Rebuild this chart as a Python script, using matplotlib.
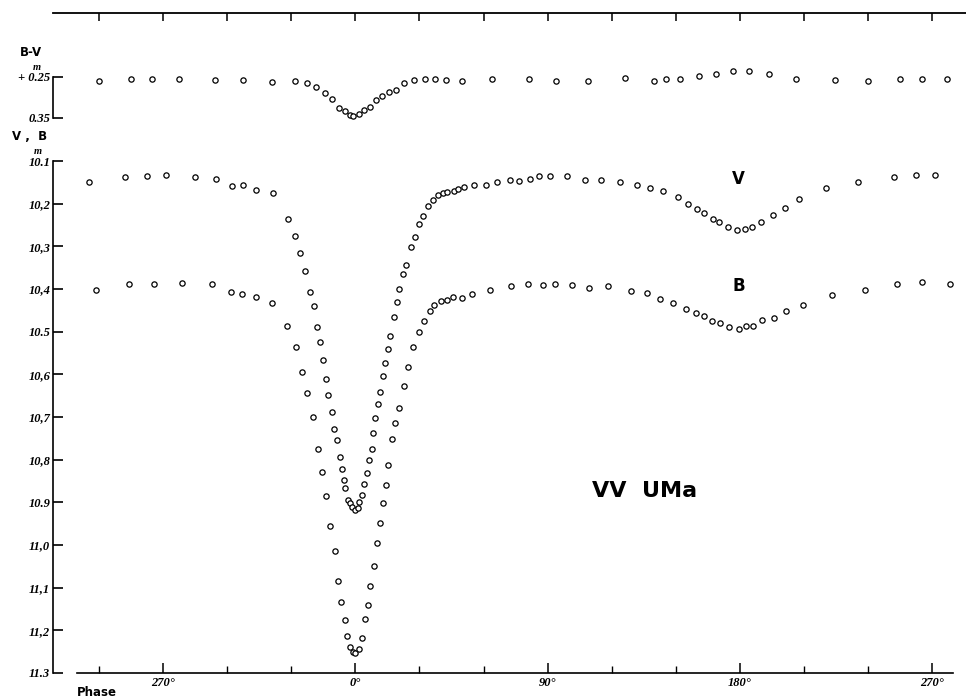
import matplotlib
matplotlib.use("Agg")
import matplotlib.pyplot as plt

# B-V colour curve (phase in degrees, colour index in mag)
bv_phase = [-120.1, -105.1, -95.1, -82.8, -65.6, -52.5, -39.1, -28.5, -22.7, -18.5,
            -14.4, -11.0, -7.6, -4.9, -2.6, -1.0, 1.8, 4.0, 6.9, 9.7,
            12.5, 15.5, 19.0, 22.6, 27.4, 32.4, 37.1, 42.4, 50.0, 64.1,
            81.1, 93.9, 109.0, 126.2, 139.9, 145.4, 152.0, 160.8, 168.7, 176.9,
            184.3, 193.6, 206.1, 224.7, 240.1, 255.0, 265.3, 277.1]
bv_value = [0.260, 0.256, 0.256, 0.256, 0.257, 0.257, 0.261, 0.260, 0.264, 0.275,
            0.288, 0.304, 0.325, 0.332, 0.343, 0.344, 0.340, 0.330, 0.322, 0.307,
            0.297, 0.287, 0.282, 0.265, 0.257, 0.256, 0.256, 0.257, 0.260, 0.256,
            0.255, 0.260, 0.260, 0.252, 0.259, 0.254, 0.255, 0.247, 0.243, 0.236,
            0.235, 0.243, 0.255, 0.258, 0.259, 0.256, 0.256, 0.256]

# V light curve
v_phase = [-124.9, -107.8, -97.6, -88.7, -75.2, -65.3, -57.8, -52.8, -46.4, -38.8,
           -31.7, -28.3, -26.1, -23.5, -21.3, -19.4, -18.2, -16.6, -15.1, -13.7,
           -12.7, -11.1, -9.9, -8.5, -7.4, -6.5, -5.5, -4.8, -3.7, -2.4,
           -1.5, -0.2, 1.0, 1.8, 3.0, 4.0, 5.2, 6.5, 7.6, 8.3,
           9.1, 10.4, 11.5, 12.9, 13.8, 15.2, 16.3, 17.9, 19.3, 20.2,
           22.1, 23.6, 25.8, 27.9, 29.7, 31.7, 34.1, 36.1, 38.5, 40.8,
           42.7, 46.1, 48.1, 50.9, 55.6, 61.2, 66.3, 72.3, 76.7, 81.9,
           86.1, 91.2, 98.9, 107.5, 115.1, 123.9, 131.8, 137.8, 144.1, 151.0,
           155.7, 159.9, 163.3, 167.3, 170.1, 174.4, 178.5, 182.4, 185.8, 189.9,
           195.5, 201.3, 207.5, 220.2, 235.2, 252.2, 262.3, 271.4]
v_mag = [10.150, 10.137, 10.134, 10.132, 10.137, 10.142, 10.159, 10.157, 10.169, 10.176,
         10.236, 10.275, 10.315, 10.357, 10.406, 10.441, 10.490, 10.525, 10.566, 10.612,
         10.649, 10.688, 10.728, 10.755, 10.794, 10.823, 10.848, 10.866, 10.895, 10.902,
         10.911, 10.919, 10.914, 10.900, 10.882, 10.858, 10.831, 10.800, 10.776, 10.738,
         10.703, 10.669, 10.641, 10.603, 10.573, 10.541, 10.509, 10.465, 10.430, 10.401,
         10.365, 10.343, 10.302, 10.279, 10.248, 10.228, 10.205, 10.192, 10.180, 10.175,
         10.172, 10.170, 10.166, 10.162, 10.156, 10.156, 10.149, 10.145, 10.147, 10.142,
         10.134, 10.135, 10.134, 10.145, 10.145, 10.149, 10.157, 10.163, 10.171, 10.185,
         10.200, 10.213, 10.223, 10.237, 10.244, 10.255, 10.262, 10.260, 10.255, 10.243,
         10.226, 10.211, 10.188, 10.163, 10.150, 10.137, 10.133, 10.133]

# B light curve
b_phase = [-121.4, -106.1, -94.5, -81.2, -67.1, -58.4, -53.3, -46.6, -39.0, -31.9,
           -27.7, -25.1, -22.7, -20.0, -17.6, -15.5, -13.7, -12.1, -9.6, -8.2,
           -6.8, -4.8, -3.8, -2.4, -1.2, -0.1, 1.6, 2.9, 4.4, 5.9,
           6.9, 8.5, 10.1, 11.5, 13.0, 14.4, 15.4, 17.2, 18.6, 20.2,
           22.7, 24.7, 27.1, 29.6, 32.1, 34.7, 36.9, 39.9, 42.7, 45.7,
           49.9, 54.4, 63.2, 73.0, 80.9, 87.7, 93.4, 101.4, 109.3, 118.1,
           129.1, 136.4, 142.4, 148.8, 154.9, 159.4, 163.0, 166.8, 170.7, 175.0,
           179.4, 183.0, 186.0, 190.5, 195.8, 201.7, 209.7, 223.3, 238.7, 253.7,
           265.1, 278.5]
b_mag = [10.403, 10.389, 10.389, 10.387, 10.389, 10.407, 10.411, 10.419, 10.433, 10.487,
         10.536, 10.594, 10.643, 10.700, 10.776, 10.828, 10.886, 10.955, 11.014, 11.084,
         11.134, 11.176, 11.213, 11.239, 11.250, 11.252, 11.244, 11.218, 11.173, 11.141,
         11.095, 11.049, 10.995, 10.949, 10.902, 10.859, 10.813, 10.752, 10.713, 10.678,
         10.628, 10.583, 10.535, 10.500, 10.475, 10.451, 10.438, 10.428, 10.426, 10.419,
         10.422, 10.412, 10.402, 10.392, 10.388, 10.390, 10.388, 10.391, 10.398, 10.394,
         10.405, 10.409, 10.423, 10.433, 10.447, 10.457, 10.463, 10.475, 10.480, 10.490,
         10.493, 10.486, 10.487, 10.473, 10.467, 10.451, 10.437, 10.415, 10.403, 10.388,
         10.383, 10.388]

mag_ticks = [10.1, 10.2, 10.3, 10.4, 10.5, 10.6, 10.7, 10.8, 10.9, 11.0, 11.1, 11.2, 11.3]
mag_labels = ["10.1", "10,2", "10,3", "10,4", "10.5", "10,6", "10,7", "10,8", "10.9",
              "11,0", "11,1", "11,2", "11.3"]
bv_ticks = [0.25, 0.35]
bv_labels = ["+ 0.25", "0.35"]
phase_major = [-90, 0, 90, 180, 270]
phase_labels = ["270°", "0°", "90°", "180°", "270°"]
phase_minor = [-120, -60, -30, 30, 60, 120, 150, 210, 240]
top_ticks = list(range(-120, 271, 30))

W, H = 966, 700
XLIM = (-141.6, 285.9)


def box(x0, y0, x1, y1):
    # pixel box, origin top-left -> figure rect
    return [x0 / W, 1 - y1 / H, (x1 - x0) / W, (y1 - y0) / H]


def fpos(x, y):
    return x / W, 1 - y / H


fig = plt.figure(figsize=(W / 100, H / 100), dpi=100)
ax_bv = fig.add_axes(box(53, 13, 966, 130))
ax = fig.add_axes(box(53, 150, 966, 673))

lab_font = dict(family="Liberation Serif", style="italic", weight="bold", size=9)
mk = dict(ls="none", marker="o", ms=3.8, mfc="white", mec="black", mew=0.9, clip_on=False)

# --- B-V panel ---
ax_bv.plot(bv_phase, bv_value, **mk)
ax_bv.set_xlim(*XLIM)
ax_bv.set_ylim(0.3793, 0.0939)
for s in ["right", "bottom"]:
    ax_bv.spines[s].set_visible(False)
ax_bv.spines["left"].set_bounds(0.25, 0.35)
ax_bv.spines["left"].set_linewidth(1.2)
ax_bv.spines["top"].set_linewidth(1.3)
ax_bv.xaxis.tick_top()
ax_bv.set_xticks(top_ticks)
ax_bv.tick_params(axis="x", direction="in", length=6, width=1.1, labeltop=False)
ax_bv.set_yticks(bv_ticks)
ax_bv.set_yticklabels(bv_labels, fontdict=lab_font)
ax_bv.tick_params(axis="y", direction="in", length=7, width=1.2, pad=2)

# --- V, B panel ---
ax.plot(v_phase, v_mag, **mk)
ax.plot(b_phase, b_mag, **mk)
ax.set_xlim(*XLIM)
ax.set_ylim(11.3, 10.0742)
for s in ["right", "top"]:
    ax.spines[s].set_visible(False)
ax.spines["left"].set_bounds(10.1, 11.3)
ax.spines["bottom"].set_bounds(-130.4, 279.8)
ax.spines["left"].set_linewidth(1.2)
ax.spines["bottom"].set_linewidth(1.2)
ax.set_yticks(mag_ticks)
ax.set_yticklabels(mag_labels, fontdict=lab_font)
ax.tick_params(axis="y", direction="in", length=7, width=1.2, pad=2)
ax.set_xticks(phase_major)
ax.set_xticklabels(phase_labels, fontdict=lab_font)
ax.set_xticks(phase_minor, minor=True)
ax.tick_params(axis="x", which="major", direction="in", length=7, width=1.1, pad=3)
ax.tick_params(axis="x", which="minor", direction="in", length=5, width=1.0)

ax.text(179.2, 10.143, "V", ha="center", va="center", fontsize=12, fontweight="bold")
ax.text(179.7, 10.393, "B", ha="center", va="center", fontsize=12, fontweight="bold")
ax.text(135.6, 10.873, "VV  UMa", ha="center", va="center", fontsize=16, fontweight="bold")

# axis captions
sup = dict(family="Liberation Serif", style="italic", weight="bold", size=7.5)
fig.text(*fpos(37, 67), "m", ha="center", va="center", **sup)
fig.text(*fpos(38, 152), "m", ha="center", va="center", **sup)
fig.text(*fpos(20, 53), "B-V", ha="left", va="center", fontsize=8.5, fontweight="bold")
fig.text(*fpos(12, 137), "V ,  B", ha="left", va="center", fontsize=8.5, fontweight="bold")
fig.text(*fpos(77, 693), "Phase", ha="left", va="center", fontsize=8.5, fontweight="bold")

fig.savefig("out.png", dpi=100)
